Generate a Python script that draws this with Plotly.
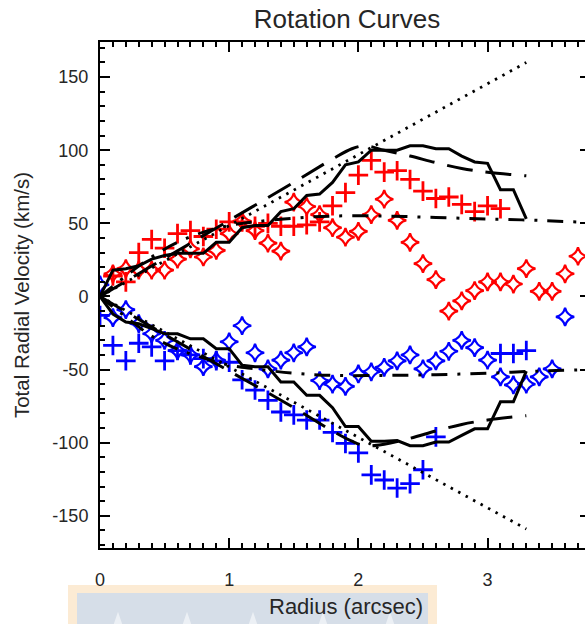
import plotly.graph_objects as go

# ---------------- data ----------------
r_red_cross = [0.1, 0.2, 0.3, 0.4, 0.5, 0.6, 0.7, 0.8, 0.9, 1.0, 1.1, 1.2, 1.3, 1.4, 1.5, 1.6,
               1.7, 1.8, 1.9, 2.0, 2.1, 2.2, 2.3, 2.4, 2.5, 2.6, 2.7, 2.8, 2.9, 3.0, 3.1]
v_red_cross = [14, 10, 30, 39, 33, 43, 45, 41, 46, 51, 51, 48, 50, 48, 48, 49,
               51, 62, 71, 83, 93, 85, 86, 80, 72, 67, 68, 63, 58, 62, 60]

r_red_diam = [0.1, 0.2, 0.3, 0.4, 0.5, 0.6, 0.7, 0.8, 0.9, 1.0, 1.1, 1.2, 1.3, 1.4, 1.5, 1.6,
              1.7, 1.8, 1.9, 2.0, 2.1, 2.2, 2.3, 2.4, 2.5, 2.6, 2.7, 2.8, 2.9, 3.0, 3.1, 3.2,
              3.3, 3.4, 3.5, 3.6, 3.7]
v_red_diam = [15.5, 19, 18, 18, 18, 25.5, 32.5, 27, 31.5, 43, 51.5, 45, 36.5, 31, 64.5, 61.5,
              56, 47, 40.5, 44.5, 56, 66.5, 52, 37, 22.5, 11.5, -10, -3, 4, 10, 10, 8.5,
              19, 3.5, 3.5, 15.5, 27.5]

r_blue_cross = [0.0, 0.1, 0.2, 0.3, 0.4, 0.5, 0.6, 0.7, 0.8, 0.9, 1.0, 1.1, 1.2, 1.3, 1.4, 1.5,
                1.6, 1.7, 1.8, 1.9, 2.0, 2.1, 2.2, 2.3, 2.4, 2.5, 2.6, 3.1, 3.2, 3.3]
v_blue_cross = [-13, -33.5, -44, -32, -34.5, -44, -37, -40, -42.5, -44, -45, -57, -64, -71, -79, -81,
                -84.5, -84.5, -93, -100.5, -107, -122, -125.5, -131, -128, -118.5, -96, -39, -39, -37]

r_blue_diam = [0.0, 0.1, 0.2, 0.3, 0.4, 0.5, 0.6, 0.7, 0.8, 0.9, 1.0, 1.1, 1.2, 1.3, 1.4, 1.5,
               1.6, 1.7, 1.8, 1.9, 2.0, 2.1, 2.2, 2.3, 2.4, 2.5, 2.6, 2.7, 2.8, 2.9, 3.0, 3.1,
               3.2, 3.3, 3.4, 3.5, 3.6]
v_blue_diam = [8, -14.5, -9, -18.5, -25.5, -30, -37, -40, -48, -43.5, -31, -20, -38.5, -49.5, -43.5, -38.5,
               -34.5, -57.5, -60, -61.5, -53, -51.5, -48.5, -44, -40, -49.5, -44, -37.5, -30, -35, -43.5, -55,
               -60.5, -60, -55, -49.5, -14]

# model curves
r_solid = [0.0, 0.1, 0.2, 0.3, 0.4, 0.5, 0.6, 0.7, 0.8, 0.9, 1.0, 1.1, 1.2, 1.3, 1.4, 1.5, 1.6,
           1.7, 1.8, 1.9, 2.0, 2.1, 2.2, 2.3, 2.4, 2.5, 2.6, 2.7, 2.8, 2.9, 3.0, 3.1, 3.2, 3.3]
v_solid_pos = [0, 18, 19, 21, 25.5, 28, 29.5, 29.5, 29.5, 37, 37, 47, 48.5, 48.5, 58, 60, 69,
               70, 78, 90, 92, 100, 100, 100, 103, 103, 101, 101, 96, 92, 91, 73, 73, 53]
v_solid_neg = [0, -12, -17.5, -18.7, -22, -25.5, -25.5, -29, -29, -35.7, -35.7, -47, -48, -48, -58.5, -58.5, -67.6,
               -67.6, -76, -89, -89, -99, -99, -98.5, -102, -102, -99.5, -99.5, -95, -90.5, -90.5, -72, -72, -51]

r_dash = [0.0, 0.5, 1.0, 1.5, 1.8, 1.95, 2.05, 2.2, 2.4, 2.6, 2.8, 3.0, 3.3]
v_dash_pos = [0, 26, 52, 78, 94, 101, 103, 100, 96, 91.5, 87.5, 85, 82.5]
v_dash_neg = [0, -26, -51, -76, -92, -99, -102, -101, -97, -92, -87.5, -84.5, -81.5]

r_dot = [0.0, 3.3]
v_dot_pos = [0, 160]
v_dot_neg = [0, -159]

r_dashdot = [0.0, 0.2, 0.4, 0.6, 0.8, 1.0, 1.2, 1.5, 1.8, 2.2, 2.6, 3.0, 3.4, 3.8]
v_dashdot_pos = [0, 14, 27, 37, 44, 48.5, 51, 53.5, 55, 55, 54, 53, 52, 50.5]
v_dashdot_neg = [0, -14, -27, -36, -42, -47, -49.5, -52.5, -54, -54, -53.5, -52.5, -51, -50]

x_ticks = [0, 1, 2, 3]
y_ticks = [-150, -100, -50, 0, 50, 100, 150]

RED = "#ff0000"
BLUE = "#0000ff"
FONT = "Liberation Sans, Arial, Helvetica, sans-serif"
TXT = "#262626"

fig = go.Figure()

def cross(color):
    return dict(symbol="cross-thin", size=14, color=color, line=dict(width=2.8, color=color))

def diam(color):
    return dict(symbol="star-diamond-open", size=13, color=color, line=dict(width=2.2, color=color))

fig.add_trace(go.Scatter(x=r_red_cross, y=v_red_cross, mode="markers", marker=cross(RED)))
fig.add_trace(go.Scatter(x=r_red_diam, y=v_red_diam, mode="markers", marker=diam(RED)))
fig.add_trace(go.Scatter(x=r_blue_cross, y=v_blue_cross, mode="markers", marker=cross(BLUE)))
fig.add_trace(go.Scatter(x=r_blue_diam, y=v_blue_diam, mode="markers", marker=diam(BLUE)))

LINE_W = 3
for vv in (v_solid_pos, v_solid_neg):
    fig.add_trace(go.Scatter(x=r_solid, y=vv, mode="lines",
                             line=dict(color="black", width=LINE_W)))
for vv in (v_dash_pos, v_dash_neg):
    fig.add_trace(go.Scatter(x=r_dash, y=vv, mode="lines", line_shape="spline",
                             line=dict(color="black", width=LINE_W, dash="26px,13px")))
for vv in (v_dot_pos, v_dot_neg):
    fig.add_trace(go.Scatter(x=r_dot, y=vv, mode="lines",
                             line=dict(color="black", width=2.8, dash="2.5px,6px")))
for vv in (v_dashdot_pos, v_dashdot_neg):
    fig.add_trace(go.Scatter(x=r_dashdot, y=vv, mode="lines", line_shape="spline",
                             line=dict(color="black", width=LINE_W, dash="16px,10px,3px,10px")))

# plot area: x from 100 to 590 px (right frame just beyond the 585 px window)
PW = 490.0
def px(p):
    return (p - 100.0) / PW

# faint banner behind the x-axis title
fig.add_shape(type="rect", xref="paper", yref="paper",
              x0=px(68), x1=px(437), y0=-0.073, y1=-0.2,
              fillcolor="#fcebd4", line=dict(width=0), layer="below")
fig.add_shape(type="rect", xref="paper", yref="paper",
              x0=px(77), x1=px(428), y0=-0.089, y1=-0.2,
              fillcolor="#d6dee8", line=dict(width=0), layer="below")
for cpx in (118, 187, 253, 323, 390):
    cx = px(cpx)
    fig.add_shape(type="path", xref="paper", yref="paper",
                  path=f"M {cx-0.012} -0.1601 L {cx} -0.126 L {cx+0.012} -0.1601 Z",
                  fillcolor="rgba(255,255,255,0.55)", line=dict(width=0), layer="below")

fig.add_annotation(text="Radius (arcsec)", xref="paper", yref="paper",
                   x=px(346), y=-0.116, showarrow=False, xanchor="center", yanchor="middle",
                   font=dict(family=FONT, size=22, color=TXT))

axis_common = dict(showline=True, linecolor="black", linewidth=2, ticks="inside",
                   tickcolor="black", tickwidth=2, ticklen=10, showgrid=False, zeroline=False,
                   mirror="ticks", automargin=False,
                   tickfont=dict(family=FONT, size=18, color=TXT))

fig.update_layout(
    width=590, height=624,
    margin=dict(l=100, r=0, t=42, b=76),
    paper_bgcolor="white", plot_bgcolor="white",
    showlegend=False,
    title=dict(text="Rotation Curves", x=347 / 590, xanchor="center", y=1 - 18.5 / 624,
               yanchor="middle", xref="container",
               font=dict(family=FONT, size=26, color=TXT)),
    xaxis=dict(range=[0, 3.793], tickvals=x_ticks, ticktext=[str(t) for t in x_ticks],
               ticklabelstandoff=14,
               minor=dict(dtick=0.1, ticks="inside", ticklen=5, tickwidth=1.5, tickcolor="black"),
               **axis_common),
    yaxis=dict(range=[-172, 174], tickvals=y_ticks, ticktext=[str(t) for t in y_ticks],
               ticklabelstandoff=6,
               minor=dict(dtick=10, ticks="inside", ticklen=5, tickwidth=1.5, tickcolor="black"),
               title=dict(text="Total Radial Velocity (km/s)", standoff=17,
                          font=dict(family=FONT, size=20.5, color=TXT)),
               **axis_common),
)

# place the figure at the page origin (no default body margin, no scrollbars)
fig.write_html(
    "out.html",
    config={"displayModeBar": False},
    post_script="document.body.style.margin='0';"
                "document.documentElement.style.overflow='hidden';"
                "document.body.style.overflow='hidden';",
)
